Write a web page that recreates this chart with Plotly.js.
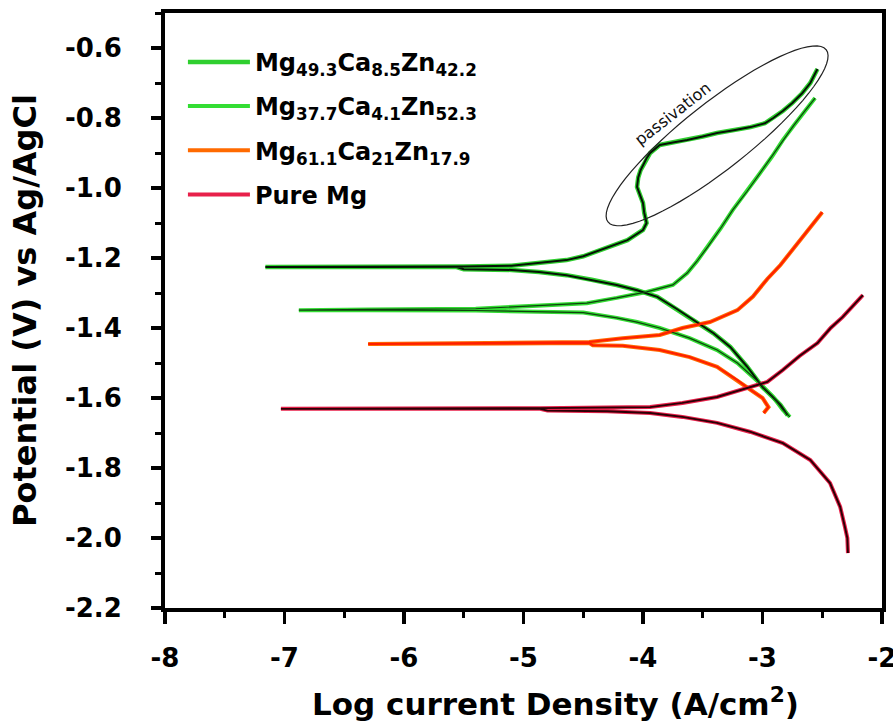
<!DOCTYPE html>
<html>
<head>
<meta charset="utf-8">
<script src="https://cdn.plot.ly/plotly-3.0.1.min.js"></script>
<style>html,body{margin:0;padding:0;background:#fff;}#chart{width:893px;height:725px;}</style>
</head>
<body>
<div id="chart"></div>
<script>
// ---- Data (log i in A/cm2, potential in V vs Ag/AgCl) ----
// Each curve: cathodic branch (from high current towards Ecorr), then anodic branch.
const seriesNames = [
  "Mg<sub>49.3</sub>Ca<sub>8.5</sub>Zn<sub>42.2</sub>",
  "Mg<sub>37.7</sub>Ca<sub>4.1</sub>Zn<sub>52.3</sub>",
  "Mg<sub>61.1</sub>Ca<sub>21</sub>Zn<sub>17.9</sub>",
  "Pure Mg"
];

const mg49_x = [-2.79,-2.85,-2.92,-3.0,-3.13,-3.27,-3.41,-3.55,-3.72,-3.88,-4.05,-4.22,-4.43,-4.64,-4.87,-5.1,-5.5,-5.56,-6.3,-7.16,
  -6.3,-5.5,-5.1,-4.87,-4.64,-4.5,-4.36,-4.25,-4.13,-4.0,-3.97,-3.99,-4.0,-4.05,-4.04,-4.02,-3.97,-3.94,-3.86,-3.75,-3.63,-3.5,-3.38,-3.24,-3.1,-2.98,-2.91,-2.83,-2.75,-2.67,-2.6,-2.54];
const mg49_y = [-1.649,-1.62,-1.595,-1.569,-1.51,-1.454,-1.415,-1.383,-1.345,-1.311,-1.292,-1.277,-1.262,-1.249,-1.240,-1.234,-1.232,-1.226,-1.226,-1.226,
  -1.224,-1.224,-1.222,-1.215,-1.206,-1.195,-1.177,-1.163,-1.149,-1.12,-1.10,-1.07,-1.043,-0.997,-0.97,-0.949,-0.915,-0.90,-0.877,-0.87,-0.863,-0.853,-0.843,-0.835,-0.826,-0.815,-0.80,-0.78,-0.757,-0.73,-0.70,-0.66];

const mg37_x = [-2.77,-2.83,-2.91,-3.05,-3.21,-3.38,-3.61,-3.86,-4.05,-4.22,-4.5,-4.95,-5.4,-6.3,-6.88,
  -6.3,-5.4,-4.95,-4.47,-4.22,-3.97,-3.75,-3.63,-3.55,-3.46,-3.35,-3.25,-3.13,-3.02,-2.92,-2.83,-2.74,-2.66,-2.56];
const mg37_y = [-1.654,-1.634,-1.597,-1.549,-1.50,-1.463,-1.429,-1.40,-1.383,-1.371,-1.356,-1.354,-1.350,-1.349,-1.349,
  -1.347,-1.345,-1.337,-1.329,-1.314,-1.297,-1.277,-1.243,-1.21,-1.169,-1.115,-1.063,-1.01,-0.957,-0.91,-0.863,-0.822,-0.786,-0.743];

const mg61_x = [-2.99,-2.95,-3.0,-3.1,-3.21,-3.38,-3.61,-3.86,-4.17,-4.42,-4.45,-5.3,-6.3,
  -5.3,-4.45,-4.17,-3.86,-3.67,-3.44,-3.21,-3.08,-2.96,-2.85,-2.75,-2.6,-2.5];
const mg61_y = [-1.643,-1.626,-1.60,-1.577,-1.549,-1.511,-1.483,-1.463,-1.451,-1.449,-1.443,-1.445,-1.446,
  -1.443,-1.440,-1.429,-1.42,-1.40,-1.383,-1.349,-1.31,-1.26,-1.22,-1.177,-1.111,-1.069];

const pure_x = [-2.285,-2.29,-2.31,-2.35,-2.435,-2.6,-2.83,-3.1,-3.38,-3.67,-3.94,-4.3,-4.8,-4.86,-6.0,-7.03,
  -6.0,-4.86,-3.94,-3.67,-3.38,-3.1,-2.96,-2.83,-2.69,-2.54,-2.43,-2.33,-2.16];
const pure_y = [-2.043,-2.0,-1.969,-1.911,-1.843,-1.777,-1.729,-1.697,-1.671,-1.654,-1.643,-1.638,-1.636,-1.631,-1.631,-1.631,
  -1.629,-1.629,-1.626,-1.614,-1.597,-1.569,-1.554,-1.52,-1.48,-1.443,-1.40,-1.369,-1.306];

const xTickVals = [-8,-7,-6,-5,-4,-3,-2];
const xTickText = ["-8","-7","-6","-5","-4","-3","-2"];
const yTickVals = [-2.2,-2.0,-1.8,-1.6,-1.4,-1.2,-1.0,-0.8,-0.6];
const yTickText = ["-2.2","-2.0","-1.8","-1.6","-1.4","-1.2","-1.0","-0.8","-0.6"];

// ---- styling ----
const glowColors = ["#2fcf2f","#33dd33","#ff6a00","#e8204a"];
const coreColors = ["#061206","#0f3f0f","#ff1e00","#2a0005"];
const glowWidths = [4.5,4,4,4];
const coreWidths = [2.0,1.2,2.0,1.9];
const xs = [mg49_x, mg37_x, mg61_x, pure_x];
const ys = [mg49_y, mg37_y, mg61_y, pure_y];

const traces = [];
for (let i = 0; i < 4; i++) {
  traces.push({x: xs[i], y: ys[i], mode: "lines", name: seriesNames[i], legendgroup: "g"+i,
    line: {color: glowColors[i], width: glowWidths[i]}, hoverinfo: "skip"});
}
for (let i = 0; i < 4; i++) {
  traces.push({x: xs[i], y: ys[i], mode: "lines", name: seriesNames[i], legendgroup: "g"+i, showlegend: false,
    line: {color: coreColors[i], width: coreWidths[i]}, hoverinfo: "skip"});
}

// rotated ellipse around the passivation region (decoration)
const W = 893, H = 725, mL = 165, mR = 11, mT = 13, mB = 117;
const xRange = [-8, -2], yRange = [-2.2, -0.5];
const pxX = (W - mL - mR) / (xRange[1] - xRange[0]);
const pxY = (H - mT - mB) / (yRange[1] - yRange[0]);
const ell = {cx: -3.38, cy: -0.851, a: 139, b: 33, ang: 38.3};
let path = "";
for (let k = 0; k <= 72; k++) {
  const t = 2 * Math.PI * k / 72, th = ell.ang * Math.PI / 180;
  const dx = ell.a * Math.cos(t) * Math.cos(th) - ell.b * Math.sin(t) * Math.sin(th);
  const dy = ell.a * Math.cos(t) * Math.sin(th) + ell.b * Math.sin(t) * Math.cos(th);
  path += (k === 0 ? "M" : "L") + (ell.cx + dx / pxX).toFixed(4) + "," + (ell.cy + dy / pxY).toFixed(4);
}
path += "Z";

const FONT = "'DejaVu Sans', Verdana, sans-serif";
const layout = {
  width: W, height: H,
  margin: {l: mL, r: mR, t: mT, b: mB},
  paper_bgcolor: "#fff", plot_bgcolor: "#fff",
  showlegend: true,
  legend: {x: 0.025, y: 0.955, xanchor: "left", yanchor: "top", bgcolor: "rgba(0,0,0,0)",
    font: {family: FONT, size: 24, color: "#000", weight: "bold"}, tracegroupgap: 10, itemwidth: 62},
  xaxis: {range: xRange, tickmode: "array", tickvals: xTickVals, ticktext: xTickText,
    ticks: "outside", ticklen: 12, tickwidth: 3.5, tickcolor: "#000",
    minor: {ticks: "outside", dtick: 0.5, tick0: -8, ticklen: 6, tickwidth: 3, tickcolor: "#000"},
    showline: true, linewidth: 4, linecolor: "#000", mirror: true, showgrid: false, zeroline: false,
    ticklabelstandoff: 12, ticklabeloverflow: "allow",
    tickfont: {family: FONT, size: 26, color: "#000", weight: "bold"}, fixedrange: true},
  yaxis: {range: yRange, tickmode: "array", tickvals: yTickVals, ticktext: yTickText,
    ticks: "outside", ticklen: 10, tickwidth: 3.5, tickcolor: "#000",
    minor: {ticks: "outside", dtick: 0.1, tick0: -2.2, ticklen: 6, tickwidth: 3, tickcolor: "#000"},
    showline: true, linewidth: 4, linecolor: "#000", mirror: true, showgrid: false, zeroline: false,
    ticklabelstandoff: 24, ticklabeloverflow: "allow",
    tickfont: {family: FONT, size: 26, color: "#000", weight: "bold"},
    title: {text: "Potential (V) vs Ag/AgCl", standoff: 20, font: {family: FONT, size: 32, color: "#000", weight: "bold"}},
    automargin: false, fixedrange: true},
  shapes: [{type: "path", xref: "x", yref: "y", path: path, line: {color: "#222", width: 1.2}}],
  annotations: [
    {text: "passivation", xref: "x", yref: "y", x: -3.75, y: -0.786, showarrow: false, textangle: -38,
      font: {family: FONT, size: 16, color: "#111"}},
    {text: "Log current Density (A/cm<sup>2</sup>)", xref: "paper", yref: "paper", x: 0.544, y: -0.158,
      xanchor: "center", yanchor: "middle", showarrow: false,
      font: {family: FONT, size: 31, color: "#000", weight: "bold"}}
  ]
};

Plotly.newPlot("chart", traces, layout, {staticPlot: true, displayModeBar: false});
</script>
</body>
</html>
